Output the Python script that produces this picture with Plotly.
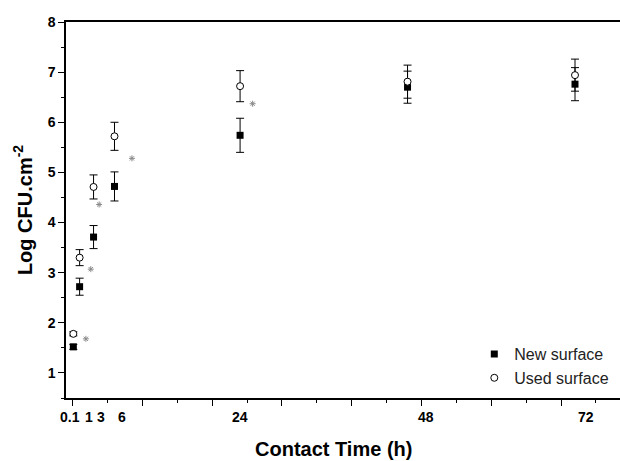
import plotly.graph_objects as go

# Contact times (h)
times = [0.1, 1, 3, 6, 24, 48, 72]

# New surface (filled squares)
new_vals = [1.52, 2.72, 3.71, 4.72, 5.74, 6.70, 6.76]
new_err = [0.05, 0.17, 0.23, 0.29, 0.34, 0.32, 0.33]

# Used surface (open circles)
used_vals = [1.78, 3.30, 4.71, 5.72, 6.72, 6.81, 6.94]
used_err = [0.04, 0.16, 0.24, 0.28, 0.31, 0.33, 0.32]

# Significance asterisks
sig_x = [1.9, 2.6, 3.8, 8.5, 25.8]
sig_y = [1.68, 3.07, 4.36, 5.28, 6.37]

# Tick labels
tick_labels = ["0.1", "1", "3", "6", "24", "48", "72"]
tick_label_pos = [-0.4, 2.3, 4.05, 7.05, 24.0, 50.6, 73.6]
tick_marks = [0, 10, 20, 30, 40, 50, 60, 70]

FONT = "Liberation Sans, Arial, sans-serif"
x_range = [-0.95, 78.45]

fig = go.Figure()

fig.add_trace(go.Scatter(
    x=times, y=new_vals, mode="markers", name="New surface",
    marker=dict(symbol="square", size=7, color="black"),
    error_y=dict(type="data", array=new_err, visible=True,
                 color="black", thickness=1, width=4),
))
fig.add_trace(go.Scatter(
    x=times, y=used_vals, mode="markers", name="Used surface",
    marker=dict(symbol="circle", size=7, color="white",
                line=dict(color="black", width=1)),
    error_y=dict(type="data", array=used_err, visible=True,
                 color="black", thickness=1, width=4),
))
fig.add_trace(go.Scatter(
    x=sig_x, y=sig_y, mode="markers", showlegend=False, hoverinfo="skip",
    marker=dict(symbol="asterisk-open", size=5, color="#8a8a8a",
                line=dict(color="#8a8a8a", width=1)),
))

annotations = [
    dict(text=f"<b>{lab}</b>", x=pos, y=-0.025, xref="x", yref="paper",
         xanchor="center", yanchor="top", showarrow=False,
         font=dict(family=FONT, size=14, color="black"))
    for lab, pos in zip(tick_labels, tick_label_pos)
]
annotations.append(dict(
    text="<b>Contact Time (h)</b>", xref="paper", yref="paper",
    x=0.482, y=-0.135, xanchor="center", yanchor="middle",
    showarrow=False, font=dict(family=FONT, size=20, color="black"),
))

fig.update_layout(
    width=620, height=461,
    margin=dict(l=66, r=0, t=22, b=63),
    paper_bgcolor="white", plot_bgcolor="white",
    font=dict(family=FONT, color="black"),
    showlegend=True,
    legend=dict(x=0.737, y=0.162, xanchor="left", yanchor="top",
                font=dict(family=FONT, size=16, color="#222"),
                bgcolor="rgba(0,0,0,0)", itemwidth=30,
                tracegroupgap=0),
    xaxis=dict(
        range=x_range, showgrid=False, zeroline=False, automargin=False,
        showline=True, linecolor="black", linewidth=1.5, mirror=True,
        tickmode="array", tickvals=tick_marks,
        ticktext=[""] * len(tick_marks),
        ticks="outside", ticklen=6, tickwidth=1, tickcolor="black",
        minor=dict(dtick=5, tick0=0, ticks="outside", ticklen=3,
                   tickwidth=1, tickcolor="black", showgrid=False),
    ),
    yaxis=dict(
        range=[0.5, 8], showgrid=False, zeroline=False, automargin=False,
        showline=True, linecolor="black", linewidth=1.5,
        tickmode="linear", tick0=0, dtick=1,
        ticks="outside", ticklen=6, tickwidth=1, tickcolor="black",
        minor=dict(dtick=0.5, ticks="outside", ticklen=3,
                   tickwidth=1, tickcolor="black", showgrid=False),
        tickfont=dict(family=FONT, size=14, weight="bold"),
        title=dict(text="Log CFU.cm<sup>-2</sup>", standoff=10,
                   font=dict(family=FONT, size=20, weight="bold")),
    ),
    annotations=annotations,
)

fig.write_html(
    "out.html",
    config={"displayModeBar": False},
    post_script="document.body.style.margin='0';document.body.style.padding='0';",
)
